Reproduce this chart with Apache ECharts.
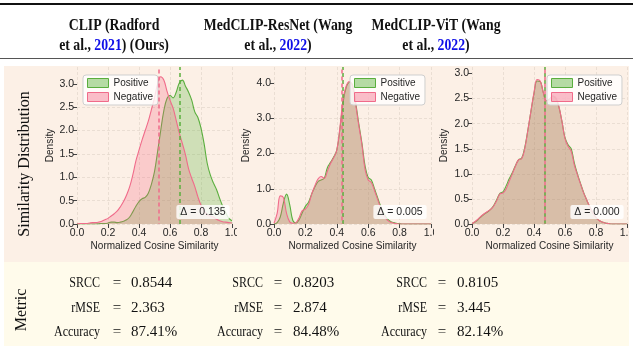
<!DOCTYPE html>
<html><head><meta charset="utf-8">
<script src="https://cdn.jsdelivr.net/npm/echarts@6/dist/echarts.min.js"></script>
<style>html,body{margin:0;padding:0;background:#fff}#c{width:633px;height:350px}</style>
</head><body><div id="c"></div>
<script>
// ---------- data ----------
const xGrid = [0.00,0.02,0.04,0.06,0.08,0.10,0.12,0.14,0.16,0.18,0.20,0.22,0.24,0.26,0.28,0.30,0.32,0.34,0.36,0.38,0.40,0.42,0.44,0.46,0.48,0.50,0.52,0.54,0.56,0.58,0.60,0.62,0.64,0.66,0.68,0.70,0.72,0.74,0.76,0.78,0.80,0.82,0.84,0.86,0.88,0.90,0.92,0.94,0.96,0.98,1.00];
const clipPos = [0,0,0,0,0,0,0,0.005,0.01,0.01,0.02,0.04,0.04,0.03,0.04,0.06,0.09,0.15,0.26,0.38,0.48,0.54,0.57,0.66,0.85,1.12,1.55,2.00,2.42,2.68,2.75,2.70,2.82,3.02,3.08,2.95,2.82,2.65,2.40,2.28,2.05,1.72,1.30,1.05,0.88,0.74,0.55,0.38,0.24,0.12,0.07];
const clipNeg = [0.00,0.01,0.01,0.01,0.02,0.03,0.03,0.04,0.06,0.09,0.12,0.17,0.22,0.28,0.37,0.48,0.62,0.80,1.05,1.35,1.58,1.80,2.00,2.20,2.45,2.70,3.00,3.15,3.08,2.85,2.65,2.48,2.22,1.95,1.72,1.48,1.18,0.98,0.80,0.58,0.40,0.28,0.20,0.17,0.15,0.10,0.07,0.05,0.04,0.03,0.02];
const resPos = [0.00,0.04,0.20,0.60,0.85,0.55,0.10,0.03,0.12,0.32,0.50,0.62,0.85,1.05,1.20,1.25,1.30,1.60,1.75,1.90,2.10,2.70,3.45,3.88,4.02,3.95,3.45,2.85,2.30,1.65,1.32,1.25,1.00,0.75,0.50,0.30,0.16,0.08,0.04,0.02,0.01,0,0,0,0,0,0,0,0,0,0];
const resNeg = [0.02,0.30,0.80,0.75,0.30,0.06,0.02,0.04,0.18,0.38,0.42,0.55,0.85,1.08,1.28,1.35,1.30,1.50,1.72,1.88,2.10,2.75,3.55,3.92,4.05,3.92,3.40,2.80,2.25,1.55,1.25,1.18,0.95,0.70,0.45,0.25,0.12,0.06,0.03,0.01,0,0,0,0,0,0,0,0,0,0,0];
const vitPos = [0.01,0.04,0.09,0.15,0.20,0.24,0.29,0.37,0.49,0.61,0.64,0.76,0.90,1.02,1.16,1.28,1.31,1.52,1.86,2.24,2.60,2.85,2.84,2.62,2.46,2.49,2.55,2.51,2.34,2.05,1.72,1.58,1.50,1.22,1.00,0.81,0.63,0.48,0.34,0.22,0.13,0.07,0.04,0.02,0.01,0,0,0,0,0,0];
const vitNeg = [0.01,0.05,0.10,0.16,0.21,0.25,0.29,0.36,0.47,0.60,0.62,0.70,0.85,1.00,1.15,1.28,1.30,1.50,1.86,2.25,2.62,2.88,2.85,2.62,2.45,2.48,2.55,2.52,2.35,2.05,1.70,1.55,1.45,1.18,0.98,0.80,0.62,0.48,0.34,0.22,0.13,0.07,0.04,0.02,0.01,0,0,0,0,0,0];
const posSeries = [clipPos, resPos, vitPos];
const negSeries = [clipNeg, resNeg, vitNeg];
const posMeans = [0.660, 0.440, 0.465];
const negMeans = [0.525, 0.435, 0.465];
const deltaLabels = ['0.135', '0.005', '0.000'];
const yMax = [3.36, 4.46, 3.13];
const yIntervals = [0.5, 1.0, 0.5];
const yTicks = [[0,0.5,1,1.5,2,2.5,3],[0,1,2,3,4],[0,0.5,1,1.5,2,2.5,3]];
const xTicks = [0,0.2,0.4,0.6,0.8,1.0];
const seriesNames = ['Positive', 'Negative'];
const headerLine1 = ['CLIP (Radford', 'MedCLIP-ResNet (Wang', 'MedCLIP-ViT (Wang'];
const headerYear = ['2021', '2022', '2022'];
const headerSuffix = [') (Ours)', ')', ')'];
const metricNames = ['SRCC', 'rMSE', 'Accuracy'];
const srccVals = ['0.8544', '0.8203', '0.8105'];
const rmseVals = ['2.363', '2.874', '3.445'];
const accVals = ['87.41%', '84.48%', '82.14%'];
const rowLabels = ['Similarity Distribution', 'Metric'];
const xName = 'Normalized Cosine Similarity';
const yName = 'Density';

// ---------- layout / style ----------
const SERIF = 'Liberation Serif', SANS = 'Liberation Sans';
const L = {
  grids: [{left:77, top:67, width:155, height:157},{left:274, top:67, width:157, height:157},{left:472, top:67, width:155, height:157}],
  yNameGap: [22, 23, 23],
  legendLeft: [83, 350, 547],
  deltaX: [203, 400, 597], deltaY: 212,
  headerX: [114, 278, 436], headerY: [25.5, 45.5],
  labRight: [100, 263, 427], eqX: [117, 278, 442], valLeft: [131, 293, 457],
  rowY: [283, 308, 332]
};
const C = {
  peach: '#fcf0e6', cream: '#fffbeb',
  posLine: '#5aae3e', posFill: 'rgba(90,180,60,0.40)',
  negLine: '#f06b8a', negFill: 'rgba(242,96,126,0.37)',
  grid: '#e4d9ce', text: '#262626', blue: '#1010e8'
};

const grids = [], xAxes = [], yAxes = [], series = [], legends = [], graphics = [];
for (let i = 0; i < 3; i++) {
  grids.push(Object.assign({outerBoundsMode: 'none', containLabel: false}, L.grids[i]));
  xAxes.push({
    type: 'value', gridIndex: i, min: 0, max: 1, interval: 0.2,
    name: xName, nameLocation: 'middle', nameGap: 17,
    nameTextStyle: {fontFamily: SANS, fontSize: 10, color: C.text},
    axisLine: {show: false},
    axisTick: {show: true, length: 4, lineStyle: {color: '#444', width: 1}, customValues: xTicks},
    axisLabel: {fontFamily: SANS, fontSize: 10.5, color: C.text, margin: 4, customValues: xTicks, formatter: v => v.toFixed(1)},
    splitLine: {show: true, lineStyle: {color: C.grid, type: [3, 2], width: 0.8}}
  });
  yAxes.push({
    type: 'value', gridIndex: i, min: 0, max: yMax[i], interval: yIntervals[i],
    name: yName, nameLocation: 'middle', nameGap: L.yNameGap[i],
    nameTextStyle: {fontFamily: SANS, fontSize: 10, color: C.text},
    axisLine: {show: false},
    axisTick: {show: true, length: 4, lineStyle: {color: '#444', width: 1}, customValues: yTicks[i]},
    axisLabel: {fontFamily: SANS, fontSize: 10.5, color: C.text, margin: 3, customValues: yTicks[i], formatter: v => v.toFixed(1)},
    splitLine: {show: true, showMaxLine: false, lineStyle: {color: C.grid, type: [3, 2], width: 0.8}}
  });
  const mk = (vals) => xGrid.map((x, k) => [x, vals[k]]);
  series.push({
    name: seriesNames[0], type: 'line', xAxisIndex: i, yAxisIndex: i,
    data: mk(posSeries[i]), smooth: 0.4, symbol: 'none', z: 2,
    lineStyle: {color: C.posLine, width: 1.1}, itemStyle: {color: C.posLine},
    areaStyle: {color: C.posFill, origin: 'start'},
    markLine: {silent: true, symbol: ['none', 'none'], label: {show: false}, animation: false,
      lineStyle: {color: C.posLine, type: [4, 3], width: 1.5},
      data: [{xAxis: posMeans[i]}]}
  });
  series.push({
    name: seriesNames[1], type: 'line', xAxisIndex: i, yAxisIndex: i,
    data: mk(negSeries[i]), smooth: 0.4, symbol: 'none', z: 3,
    lineStyle: {color: C.negLine, width: 1.1}, itemStyle: {color: C.negLine},
    areaStyle: {color: C.negFill, origin: 'start'},
    markLine: {silent: true, symbol: ['none', 'none'], label: {show: false}, animation: false,
      lineStyle: {color: C.negLine, type: [4, 3], dashOffset: 3.5, width: 1.5},
      data: [{xAxis: negMeans[i]}]}
  });
  legends.push({
    orient: 'vertical', left: L.legendLeft[i], top: 75,
    padding: [2, 5, 2, 4], itemGap: 2, itemWidth: 21, itemHeight: 9,
    backgroundColor: 'rgba(255,255,255,0.8)', borderColor: '#cfcfcf', borderWidth: 1, borderRadius: 3,
    selectedMode: false,
    textStyle: {fontFamily: SANS, fontSize: 10, color: C.text, lineHeight: 12},
    data: [
      {name: seriesNames[0], icon: 'rect', itemStyle: {color: 'rgba(90,180,60,0.45)', borderColor: C.posLine, borderWidth: 1}},
      {name: seriesNames[1], icon: 'rect', itemStyle: {color: 'rgba(242,96,126,0.40)', borderColor: C.negLine, borderWidth: 1}}
    ]
  });
  // delta box
  graphics.push({type: 'text', x: L.deltaX[i], y: L.deltaY, z: 50, silent: true,
    style: {text: '\u0394 = ' + deltaLabels[i], fontFamily: SANS, fontSize: 10.5, fill: C.text,
      align: 'center', verticalAlign: 'middle', backgroundColor: 'rgba(255,255,255,0.82)', padding: [2, 4, 1, 4], borderRadius: 2}});
  // header
  graphics.push({type: 'text', x: L.headerX[i], y: L.headerY[0], z: 50, silent: true, scaleX: 0.86,
    style: {text: headerLine1[i], fontFamily: SERIF, fontSize: 16, fontWeight: 'bold', fill: '#111', align: 'center', verticalAlign: 'middle'}});
  graphics.push({type: 'text', x: L.headerX[i], y: L.headerY[1], z: 50, silent: true, scaleX: 0.86,
    style: {text: '{b|et al., }{y|' + headerYear[i] + '}{b|' + headerSuffix[i] + '}', align: 'center', verticalAlign: 'middle',
      rich: {
        b: {fontFamily: SERIF, fontSize: 16, fontWeight: 'bold', fill: '#111'},
        y: {fontFamily: SERIF, fontSize: 16, fontWeight: 'bold', fill: C.blue}
      }}});
  // metrics
  const vals = [srccVals[i], rmseVals[i], accVals[i]];
  for (let r = 0; r < 3; r++) {
    graphics.push({type: 'text', x: L.labRight[i], y: L.rowY[r], z: 50, silent: true, scaleX: 0.8,
      style: {text: metricNames[r], fontFamily: SERIF, fontSize: 15, fill: '#111', align: 'right', verticalAlign: 'middle'}});
    graphics.push({type: 'text', x: L.eqX[i], y: L.rowY[r], z: 50, silent: true,
      style: {text: '=', fontFamily: SERIF, fontSize: 15, fill: '#111', align: 'center', verticalAlign: 'middle'}});
    graphics.push({type: 'text', x: L.valLeft[i], y: L.rowY[r], z: 50, silent: true,
      style: {text: vals[r], fontFamily: SERIF, fontSize: 15, fill: '#111', align: 'left', verticalAlign: 'middle'}});
  }
}
// backgrounds and rules
graphics.unshift(
  {type: 'rect', z: -100, silent: true, shape: {x: 4, y: 66, width: 625, height: 196}, style: {fill: C.peach}},
  {type: 'rect', z: -100, silent: true, shape: {x: 4, y: 262, width: 625, height: 84}, style: {fill: C.cream}},
  {type: 'rect', z: 60, silent: true, shape: {x: 0, y: 3, width: 633, height: 2}, style: {fill: '#111'}},
  {type: 'rect', z: 60, silent: true, shape: {x: 0, y: 58, width: 633, height: 1}, style: {fill: '#555'}},
  {type: 'rect', z: 60, silent: true, shape: {x: 237, y: 228, width: 4, height: 16}, style: {fill: C.peach}},
  {type: 'rect', z: 60, silent: true, shape: {x: 434, y: 228, width: 4, height: 16}, style: {fill: C.peach}},
  {type: 'rect', z: 60, silent: true, shape: {x: 629, y: 228, width: 4, height: 16}, style: {fill: '#fff'}}
);
graphics.push(
  {type: 'text', x: 25, y: 164, rotation: Math.PI / 2, z: 50, silent: true,
    style: {text: rowLabels[0], fontFamily: SERIF, fontSize: 16, fill: '#111', align: 'center', verticalAlign: 'middle'}},
  {type: 'text', x: 22, y: 310, rotation: Math.PI / 2, z: 50, silent: true,
    style: {text: rowLabels[1], fontFamily: SERIF, fontSize: 16, fill: '#111', align: 'center', verticalAlign: 'middle'}}
);

const chart = echarts.init(document.getElementById('c'), null, {renderer: 'canvas'});
chart.setOption({
  animation: false,
  backgroundColor: '#ffffff',
  grid: grids, xAxis: xAxes, yAxis: yAxes, series: series, legend: legends,
  graphic: {elements: graphics}
});
</script></body></html>
